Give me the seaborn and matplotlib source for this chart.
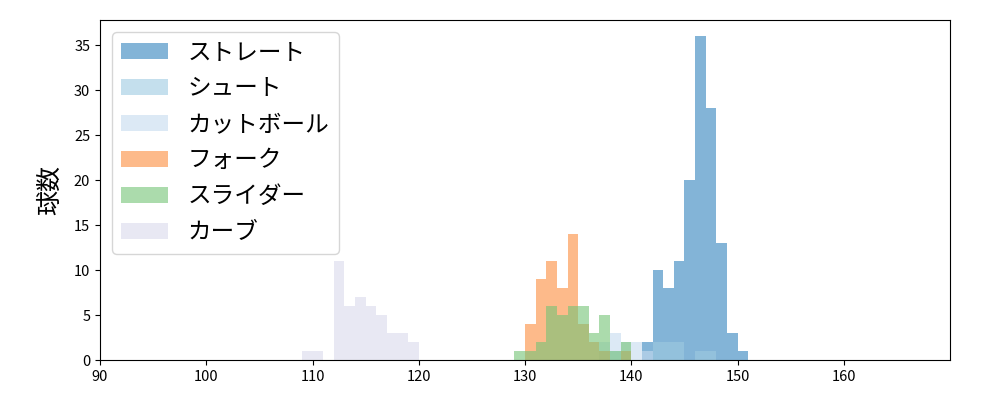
import matplotlib
matplotlib.use("Agg")
import matplotlib.pyplot as plt
import numpy as np
import seaborn as sns

plt.rcParams['font.family'] = ['Noto Sans CJK JP', 'DejaVu Sans']

# pitch types, in drawing order
pitch_names = ['ストレート', 'シュート', 'カットボール', 'フォーク', 'スライダー', 'カーブ']
pitch_colors = ['#3182bd', '#9ecae1', '#c6dbef', '#fd8d3c', '#74c476', '#dadaeb']

# speed (km/h, left bin edge) and pitch counts per 1 km/h bin
straight_speed = [141, 142, 143, 144, 145, 146, 147, 148, 149, 150]
straight_count = [2, 10, 8, 11, 20, 36, 28, 13, 3, 1]

shoot_speed = [138, 142, 143, 144, 146, 147]
shoot_count = [1, 2, 2, 2, 1, 1]

cutter_speed = [137, 138, 139, 140, 141]
cutter_count = [2, 3, 2, 2, 1]

fork_speed = [130, 131, 132, 133, 134, 135, 136, 137, 139]
fork_count = [4, 9, 11, 8, 14, 4, 2, 1, 1]

slider_speed = [129, 130, 131, 132, 133, 134, 135, 136, 137, 138, 139]
slider_count = [1, 1, 2, 6, 5, 6, 6, 3, 5, 1, 2]

curve_speed = [109, 110, 112, 113, 114, 115, 116, 117, 118, 119]
curve_count = [1, 1, 11, 6, 7, 6, 5, 3, 3, 2]

series = [
    (straight_speed, straight_count),
    (shoot_speed, shoot_count),
    (cutter_speed, cutter_count),
    (fork_speed, fork_count),
    (slider_speed, slider_count),
    (curve_speed, curve_count),
]

fig, ax = plt.subplots(figsize=(10, 4), dpi=100)
fig.subplots_adjust(left=0.1, right=0.95, bottom=0.1, top=0.95)

for name, color, (speed, count) in zip(pitch_names, pitch_colors, series):
    # one value per pitch, at the middle of its 1 km/h bin
    pitches = np.repeat(np.array(speed) + 0.5, count)
    sns.histplot(x=pitches, binwidth=1, binrange=(min(speed), max(speed) + 1),
                 color=color, alpha=0.6, linewidth=0, label=name, ax=ax)

ax.set_xlim(90, 170)
ax.set_xticks(range(90, 170, 10))
ax.tick_params(labelsize=10.5)
ax.set_ylabel('球数', fontsize=18, labelpad=8)
ax.set_xlabel('')
ax.legend(loc='upper left', fontsize=17, labelspacing=0.55)

plt.savefig('out.png')
